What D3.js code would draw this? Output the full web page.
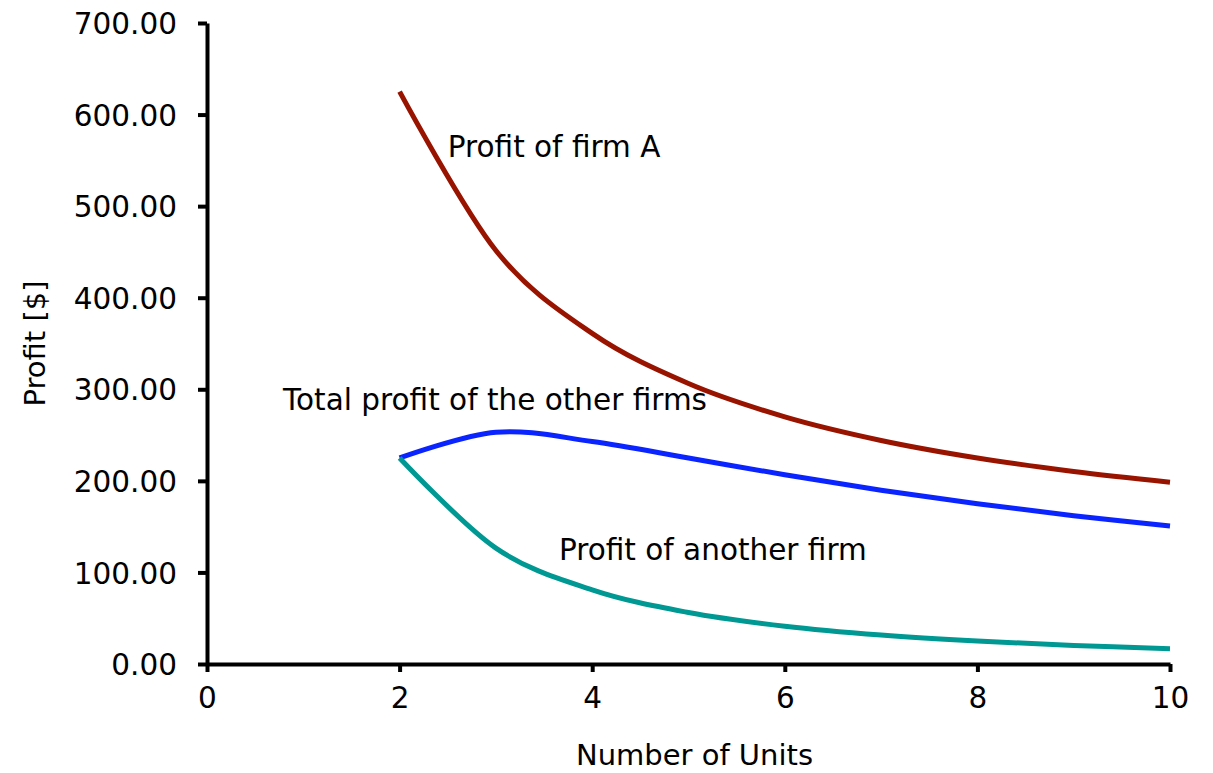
<!DOCTYPE html>
<html>
<head>
<meta charset="utf-8">
<script src="https://cdn.jsdelivr.net/npm/d3@7"></script>
<style>
  html, body { margin: 0; padding: 0; background: #fff; }
  svg { display: block; font-family: "DejaVu Sans", sans-serif; }
  .axis path, .axis line { stroke: #000; stroke-width: 4; }
  .axis text { font-size: 29.5px; fill: #000; font-family: "DejaVu Sans", sans-serif; }
</style>
</head>
<body>
<svg id="chart" width="1213" height="773"></svg>
<script>
// Number of units (firms in the market)
const units = [2, 3, 4, 5, 6, 7, 8, 9, 10];

// Profit values in dollars
const profitFirmA      = [625.00, 451.56, 361.00, 306.25, 269.90, 244.14, 225.00, 210.25, 198.55];
const profitOtherTotal = [225.00, 253.13, 243.00, 225.00, 206.63, 189.84, 175.00, 162.00, 150.62];
const profitAnother    = [225.00, 126.56, 81.00, 56.25, 41.33, 31.64, 25.00, 20.25, 16.74];

const xTicks = [0, 2, 4, 6, 8, 10];
const yTicks = [0, 100, 200, 300, 400, 500, 600, 700];

const series = [
  { name: "Profit of firm A", values: profitFirmA, color: "#991400",
    label: { x: 2.5, y: 553.5 } },
  { name: "Total profit of the other firms", values: profitOtherTotal, color: "#0a24ff",
    label: { x: 0.79, y: 277.5 } },
  { name: "Profit of another firm", values: profitAnother, color: "#009893",
    label: { x: 3.655, y: 113.5 } }
];

const svg = d3.select("#chart");

const x = d3.scaleLinear().domain([0, 10]).range([207, 1170]);
const y = d3.scaleLinear().domain([0, 700]).range([664, 23]);

// Y axis
svg.append("g")
  .attr("class", "axis")
  .attr("transform", `translate(${x(0)},0)`)
  .call(d3.axisLeft(y).tickValues(yTicks).tickSize(9).tickSizeOuter(0).tickPadding(21)
        .tickFormat(d3.format(".2f")))
  .call(g => g.selectAll("text").attr("dy", "0.36em"));

// X axis
svg.append("g")
  .attr("class", "axis")
  .attr("transform", `translate(0,${y(0)})`)
  .call(d3.axisBottom(x).tickValues(xTicks).tickSize(8).tickSizeOuter(0).tickPadding(15)
        .tickFormat(d3.format("d")));

// Curves
const line = d3.line()
  .x((d, i) => x(units[i]))
  .y(d => y(d))
  .curve(d3.curveCardinal.tension(0));

svg.append("g").selectAll("path")
  .data(series)
  .join("path")
  .attr("d", d => line(d.values))
  .attr("fill", "none")
  .attr("stroke", d => d.color)
  .attr("stroke-width", 5)
  .attr("stroke-linejoin", "round")
  .attr("stroke-linecap", "butt");

// Series labels
svg.append("g").selectAll("text")
  .data(series)
  .join("text")
  .attr("x", d => x(d.label.x))
  .attr("y", d => y(d.label.y))
  .attr("font-size", 29.5)
  .attr("fill", "#000")
  .text(d => d.name);

// Axis titles
svg.append("text")
  .attr("x", (x(0) + x(10)) / 2 + 6)
  .attr("y", 765)
  .attr("text-anchor", "middle")
  .attr("font-size", 29)
  .text("Number of Units");

svg.append("text")
  .attr("transform", `translate(45,${(y(0) + y(700)) / 2}) rotate(-90)`)
  .attr("text-anchor", "middle")
  .attr("font-size", 29)
  .text("Profit [$]");
</script>
</body>
</html>
